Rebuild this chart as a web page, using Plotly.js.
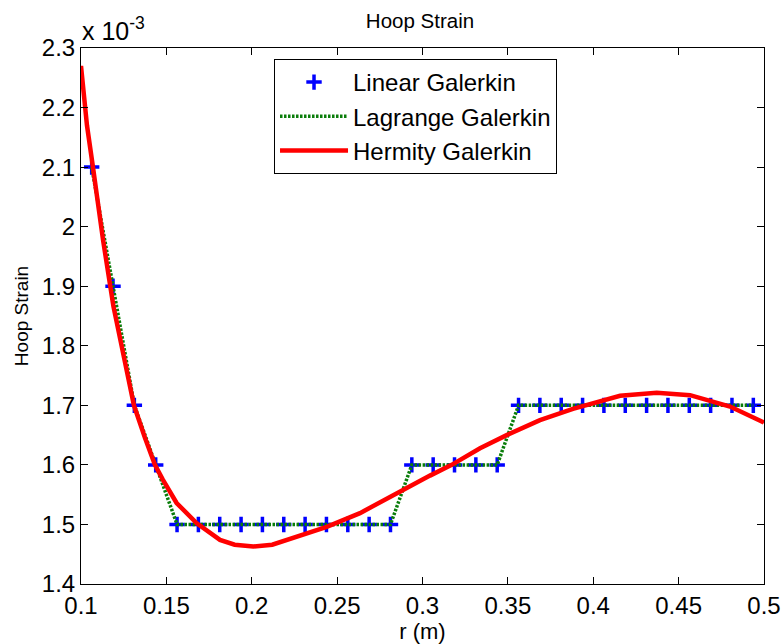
<!DOCTYPE html>
<html>
<head>
<meta charset="utf-8">
<script src="https://cdn.plot.ly/plotly-3.0.1.min.js"></script>
<style>html,body{margin:0;padding:0;background:#fff;}#chart{width:782px;height:644px;}</style>
</head>
<body>
<div id="chart"></div>
<script>
// Hoop strain values are in units of 1e-3 (axis shows "x 10^-3")
var linearR = [0.10625, 0.11875, 0.13125, 0.14375, 0.15625, 0.16875, 0.18125, 0.19375,
  0.20625, 0.21875, 0.23125, 0.24375, 0.25625, 0.26875, 0.28125, 0.29375,
  0.30625, 0.31875, 0.33125, 0.34375, 0.35625, 0.36875, 0.38125, 0.39375,
  0.40625, 0.41875, 0.43125, 0.44375, 0.45625, 0.46875, 0.48125, 0.49375];
var linearStrain = [2.1, 1.9, 1.7, 1.6, 1.5, 1.5, 1.5, 1.5,
  1.5, 1.5, 1.5, 1.5, 1.5, 1.5, 1.5, 1.6,
  1.6, 1.6, 1.6, 1.6, 1.7, 1.7, 1.7, 1.7,
  1.7, 1.7, 1.7, 1.7, 1.7, 1.7, 1.7, 1.7];

var lagrangeR = linearR.slice();
var lagrangeStrain = [2.1, 1.9, 1.7, 1.6, 1.5, 1.5, 1.5, 1.5,
  1.5, 1.5, 1.5, 1.5, 1.5, 1.5, 1.5, 1.6,
  1.6, 1.6, 1.6, 1.6, 1.7, 1.7, 1.7, 1.7,
  1.7, 1.7, 1.7, 1.7, 1.7, 1.7, 1.7, 1.7];

var hermiteR = [0.100, 0.1035, 0.107, 0.113, 0.119, 0.125, 0.131, 0.1375, 0.1433, 0.148,
  0.156, 0.1678, 0.1814, 0.190, 0.2009, 0.212, 0.2243, 0.2439, 0.2634, 0.2751,
  0.2886, 0.3044, 0.3171, 0.3337, 0.3493, 0.3688, 0.3881, 0.4157, 0.4372, 0.4567,
  0.4801, 0.4987, 0.500];
var hermiteStrain = [2.270, 2.170, 2.100, 1.976, 1.866, 1.780, 1.700, 1.645, 1.600, 1.575,
  1.536, 1.502, 1.474, 1.466, 1.463, 1.466, 1.477, 1.496, 1.519, 1.538,
  1.558, 1.582, 1.600, 1.628, 1.650, 1.675, 1.694, 1.716, 1.721, 1.717,
  1.698, 1.673, 1.671];

var seriesNames = ['Linear Galerkin', 'Lagrange Galerkin', 'Hermity Galerkin'];
var xTicks = [0.1, 0.15, 0.2, 0.25, 0.3, 0.35, 0.4, 0.45, 0.5];
var yTicks = [1.4, 1.5, 1.6, 1.7, 1.8, 1.9, 2.0, 2.1, 2.2, 2.3];

var FONT = 'Liberation Sans, Arial, sans-serif';

var traces = [
  {
    x: linearR, y: linearStrain, name: seriesNames[0], type: 'scatter', mode: 'markers',
    marker: {symbol: 'cross-thin', size: 11, color: '#0000ff', line: {color: '#0000ff', width: 3.5}}
  },
  {
    x: lagrangeR, y: lagrangeStrain, name: seriesNames[1], type: 'scatter', mode: 'lines',
    line: {color: '#0a7d0a', width: 3.5, dash: '2.5px,1.5px'}
  },
  {
    x: hermiteR, y: hermiteStrain, name: seriesNames[2], type: 'scatter', mode: 'lines',
    line: {color: '#ff0000', width: 4.5}
  }
];

var axisCommon = {
  showgrid: false, zeroline: false, showline: true, linecolor: '#000', linewidth: 1,
  mirror: 'ticks', ticks: 'inside', ticklen: 7, tickcolor: '#000', tickwidth: 1,
  tickfont: {family: FONT, size: 24, color: '#000'}
};

var layout = {
  width: 782, height: 644,
  margin: {l: 81, r: 18, t: 48, b: 60, pad: 0},
  paper_bgcolor: '#fff', plot_bgcolor: '#fff',
  font: {family: FONT, color: '#000'},
  title: {text: 'Hoop Strain', font: {family: FONT, size: 20.5, color: '#000'},
    x: 420 / 782, xref: 'container', xanchor: 'center', y: 1 - 21/644, yref: 'container', yanchor: 'middle'},
  xaxis: Object.assign({}, axisCommon, {
    range: [0.1, 0.5], tickvals: xTicks, ticktext: xTicks.map(String),
    title: {text: 'r (m)', font: {family: FONT, size: 22, color: '#000'}, standoff: 3}
  }),
  yaxis: Object.assign({}, axisCommon, {
    range: [1.4, 2.3], tickvals: yTicks, ticktext: yTicks.map(String),
    title: {text: 'Hoop Strain', font: {family: FONT, size: 19, color: '#000'}, standoff: 8}
  }),
  showlegend: true,
  legend: {
    x: 0.2826, y: 0.9795, xanchor: 'left', yanchor: 'top',
    bgcolor: '#fff', bordercolor: '#000', borderwidth: 1,
    font: {family: FONT, size: 24, color: '#000'}, itemwidth: 68
  },
  annotations: [{
    text: 'x 10<sup>-3</sup>', xref: 'paper', yref: 'paper', x: 0, y: 1,
    xanchor: 'left', yanchor: 'bottom', showarrow: false, xshift: -1, yshift: 1,
    font: {family: FONT, size: 25, color: '#000'}
  }]
};

Plotly.newPlot('chart', traces, layout, {displayModeBar: false, staticPlot: true});
</script>
</body>
</html>
